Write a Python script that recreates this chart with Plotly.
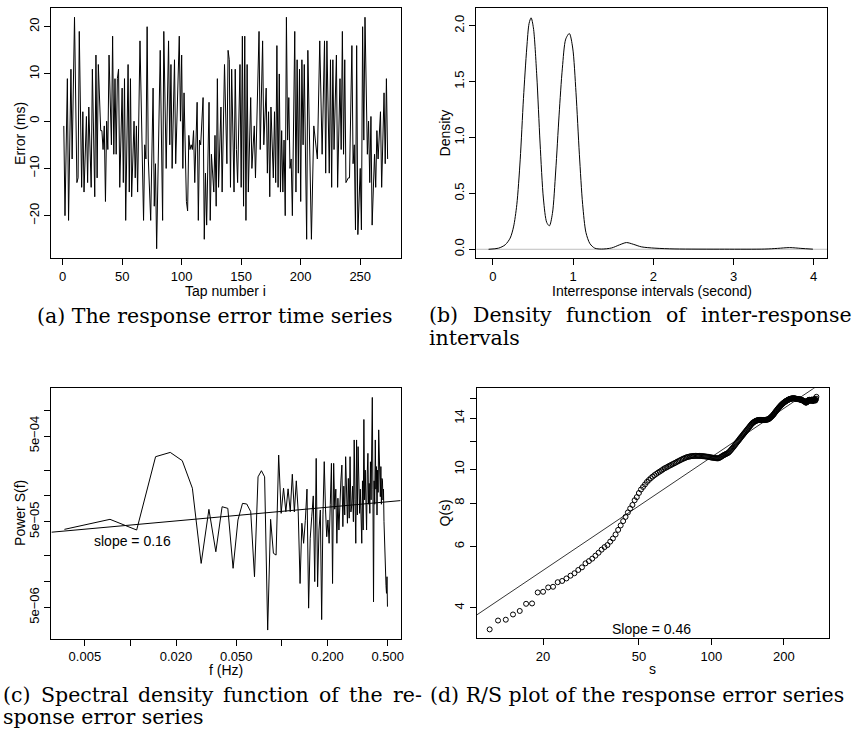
import math
import plotly.graph_objects as go

W, H = 854, 731

# ---------------- Panel (a): response error time series ----------------
tap_numbers = [1,2,4,5,7,8,10,12,13,14,16,17,18,20,21,22,24,25,27,28,29,30,32,33,34,35,36,37,38,39,
               41,42,43,44,45,46,47,48,50,51,52,53,55,56,57,58,60,61,62,63,65,68,69,70,71,72,74,76,77,78,79,
               82,84,85,87,89,90,91,92,94,95,98,99,100,101,102,104,105,106,107,108,109,110,111,113,114,115,
               116,118,119,120,121,123,124,125,127,128,129,130,131,133,134,136,138,139,140,141,142,144,145,
               146,147,149,150,151,152,153,154,155,156,158,159,161,162,165,166,168,169,171,172,173,174,175,
               177,178,179,180,181,182,183,184,185,186,187,188,
               189,190,191,192,193,195,196,197,198,199,200,201,202,203,205,206,207,209,211,214,216,218,220,
               221,222,224,225,226,227,228,230,231,233,234,235,236,237,238,240,241,243,244,245,246,247,248,
               250,251,252,253,254,256,257,258,259,260,262,263,264,265,267,268,270,271,272,273]
errors_ms = [-1,-20,9,-21,11,-8,22,-13,-12,19,-14,2,-15,1,-13,3,-14,11,-16,14,-12,12,-2,-2,-6,-1,-17,0,-6,14,
             -5,18,-7,9,-7,9,11,-14,7,-13,9,-21,12,-15,9,-16,0,-12,-1,-15,17,-21,-5,-8,20,-8,-21,7,-18,-9,-27,
             15,-21,19,-10,17,-5,12,-10,13,-9,18,0,14,-10,6,-17,-19,-3,-6,-5,-6,-2,-13,4,-21,-4,
             -5,5,-25,-11,-22,4,-21,-7,-15,-3,-18,9,-14,3,-15,12,-9,15,13,-14,11,-15,11,
             -6,-13,12,-14,18,-18,18,-21,12,-15,5,-10,-1,-12,19,-6,17,-5,7,-11,2,-16,3,
             -12,2,-13,16,-14,10,-15,-2,-15,-4,-20,22,
             -4,5,-10,-8,-20,19,-15,13,-11,11,-17,13,-5,12,-25,15,2,-25,-1,-8,17,-7,17,
             -11,17,-11,13,-14,13,-6,14,-14,9,-6,19,-7,13,-13,-12,-12,16,-9,-5,-23,16,-24,
             -10,-23,20,-4,22,-7,0,-13,1,-22,-7,-14,-2,-8,2,-14,6,-9,9,-8]

# ---------------- Panel (b): density of inter-response intervals ----------------
iri_seconds = [-0.054,0.07,0.153,0.215,0.257,0.298,0.34,0.381,0.422,0.451,0.476,0.505,0.547,0.588,0.63,
               0.671,0.704,0.742,0.783,0.825,0.866,0.908,0.953,0.995,1.036,1.078,1.119,1.16,1.21,1.27,
               1.355,1.48,1.58,1.665,1.75,1.85,2.02,2.27,2.89,3.39,3.55,3.70,3.84,3.99]
iri_density = [0.0,0.01,0.04,0.10,0.20,0.40,0.80,1.35,1.80,2.02,2.07,1.98,1.55,0.95,0.45,
               0.24,0.21,0.32,0.70,1.20,1.62,1.88,1.93,1.80,1.40,0.85,0.40,0.15,0.05,0.01,
               0.002,0.012,0.04,0.06,0.045,0.022,0.01,0.003,0.001,0.002,0.008,0.015,0.008,0.001]

# ---------------- Panel (c): spectral density ----------------
n_taps = 273
spec_power = [4.07e-5,5.33e-5,4.0e-5,2.87e-4,3.22e-4,2.58e-4,1.23e-4,1.63e-5,6.97e-5,2.23e-5,
              7.48e-5,7.16e-5,1.43e-5,5.24e-5,8.18e-5,8.05e-5,6.55e-5,1.14e-5,1.67e-4,1.97e-4,
              1.67e-4,2.72e-6,5.33e-5,2.14e-5,2.04e-5,3.0e-4,6.26e-5,1.23e-4,6.55e-5,1.21e-4,
              6.55e-5,1.79e-4,6.5e-5,1.5e-4,6.5e-5,9.5e-6,4.8e-5,2.8e-5,5.2e-5,1.2e-4,
              4.9e-6,3.2e-5,5.7e-5,1.0e-4,1.0e-5,2.74e-4,8.7e-6,4.0e-5,6.85e-5,3.6e-6,
              6.0e-5,2.51e-4,7.0e-5,3.34e-5,5.24e-5,2.8e-5,8.0e-5,2.4e-4,9.5e-6,2.4e-4,
              7.0e-5,1.2e-4,2.8e-5,9.4e-5,4.0e-5,1.1e-4,1.53e-4,2.29e-4,4.38e-5,1.3e-4,
              6.0e-5,2.87e-4,9.0e-5,4.8e-5,1.6e-4,5.5e-5,2.87e-4,6.5e-5,7.8e-5,1.3e-4,
              5.0e-5,4.5e-4,9.0e-5,2.8e-5,4.5e-4,6.0e-5,3.76e-4,7.0e-5,6.26e-5,1.2e-4,
              4.5e-5,2.8e-5,1.5e-4,4.0e-5,7.8e-4,9.0e-5,2.0e-4,6.0e-5,4.0e-5,1.8e-4,
              3.14e-4,8.0e-5,1.4e-4,6.26e-5,2.5e-4,9.0e-5,3.5e-4,1.41e-3,1.2e-4,5.8e-6,
              1.5e-4,8.0e-5,4.5e-4,1.2e-4,2.2e-4,5.98e-5,2.0e-4,1.1e-4,5.9e-4,2.5e-4,
              1.2e-4,9.8e-5,2.2e-4,8.0e-5,1.6e-4,1.53e-4,8.96e-5,1.2e-4,5.0e-5,2.8e-5,
              1.5e-5,1.25e-5,9.0e-6,7.3e-6,1.14e-5,5.1e-6]
spec_freq = [k / n_taps for k in range(1, len(spec_power) + 1)]
spec_slope = 0.16
spec_intercept_log10 = -4.02

# ---------------- Panel (d): R/S plot ----------------
rs_s = list(range(12, 274))
rs_q = [3.47,3.68,3.70,3.83,3.92,4.11,4.12,4.43,4.45,4.58,4.60,4.74,4.78,4.86,4.95,5.03,5.14,5.23,5.37,
        5.45,5.54,5.65,5.76,5.88,5.98,6.06,6.20,6.33,6.50,6.70,6.90,7.10,7.30,7.52,7.72,7.90,8.15,8.32,
        8.55,8.75,8.90,9.05,9.20,9.32,9.43,9.53,9.62,9.70,9.78,9.85,9.92,10.00,10.07,10.12,10.18,10.24,
        10.29,10.35,10.40,10.45,10.51,10.56,10.61,10.66,10.71,10.75,10.79,10.83,10.86,10.88,10.90,10.91,
        10.92,10.92,10.93,10.93,10.93,10.93,10.92,10.92,10.91,10.90,10.89,10.88,10.87,10.86,10.84,10.83,
        10.81,10.80,10.79,10.78,10.77,10.76,10.75,10.76,10.79,10.83,10.87,10.92,10.96,11.00,11.03,11.07,
        11.10,11.13,11.18,11.25,11.32,11.40,11.47,11.55,11.63,11.72,11.80,11.89,11.97,12.05,12.13,12.22,
        12.30,12.38,12.46,12.54,12.62,12.70,12.78,12.86,12.94,13.02,13.10,13.18,13.26,13.34,13.42,13.49,
        13.56,13.61,13.66,13.70,13.74,13.77,13.80,13.82,13.84,13.85,13.86,13.86,13.86,13.86,13.85,13.85,
        13.85,13.85,13.85,13.86,13.87,13.88,13.89,13.90,13.91,13.94,13.98,14.03,14.08,14.13,14.18,14.24,
        14.30,14.36,14.43,14.50,14.58,14.65,14.72,14.79,14.86,14.93,15.00,15.06,15.12,15.18,15.24,15.30,
        15.35,15.40,15.45,15.50,15.54,15.58,15.62,15.66,15.70,15.73,15.76,15.79,15.82,15.85,15.88,15.90,
        15.92,15.94,15.95,15.96,15.97,15.98,15.98,15.99,15.99,15.98,15.97,15.96,15.95,15.94,15.93,15.92,
        15.91,15.90,15.90,15.89,15.88,15.87,15.86,15.85,15.83,15.81,15.79,15.77,15.75,15.73,15.72,15.70,
        15.66,15.60,15.56,15.54,15.55,15.58,15.62,15.68,15.74,15.79,15.82,15.84,15.80,15.75,15.72,15.76,
        15.82,15.86,15.80,15.74,15.70,15.76,15.84,15.90,15.86,15.78,15.75,15.82,15.95,16.15]
rs_slope = 0.465
rs_intercept_log10 = 0.105

# ---------------- layout helpers ----------------
def px_x(p):
    return p / W

def px_y(p):
    return 1 - p / H

SANS = "Liberation Sans, Arial, Helvetica, sans-serif"
SERIF = "DejaVu Serif, serif"
TICKFONT = dict(family=SANS, size=13, color="black")

def axis(**kw):
    d = dict(showline=True, mirror=True, linecolor="black", linewidth=1,
             ticks="outside", ticklen=6, tickwidth=1, tickcolor="black",
             showgrid=False, zeroline=False, tickfont=TICKFONT, fixedrange=True)
    d.update(kw)
    return d

XR_C = [-2.522, -0.216]
XR_D = [1.025, 2.490]

fig = go.Figure()

# (a)
fig.add_trace(go.Scatter(x=tap_numbers, y=errors_ms, mode="lines",
                         line=dict(color="black", width=1), xaxis="x", yaxis="y"))
# (b)
fig.add_trace(go.Scatter(x=[-0.3, 4.3], y=[0, 0], mode="lines",
                         line=dict(color="#bebebe", width=1), xaxis="x2", yaxis="y2"))
fig.add_trace(go.Scatter(x=iri_seconds, y=iri_density, mode="lines",
                         line=dict(color="black", width=1, shape="spline", smoothing=0.8),
                         xaxis="x2", yaxis="y2"))
# (c)
fig.add_trace(go.Scatter(x=spec_freq, y=spec_power, mode="lines",
                         line=dict(color="black", width=1), xaxis="x3", yaxis="y3"))
fx = [10 ** XR_C[0], 10 ** XR_C[1]]
fig.add_trace(go.Scatter(x=fx, y=[10 ** (spec_intercept_log10 + spec_slope * math.log10(v)) for v in fx],
                         mode="lines", line=dict(color="black", width=1), xaxis="x3", yaxis="y3"))
# (d)
fig.add_trace(go.Scatter(x=rs_s, y=rs_q, mode="markers",
                         marker=dict(symbol="circle-open", size=5, color="black", line=dict(width=1)),
                         xaxis="x4", yaxis="y4"))
sx = [10 ** XR_D[0], 10 ** XR_D[1]]
fig.add_trace(go.Scatter(x=sx, y=[10 ** (rs_intercept_log10 + rs_slope * math.log10(v)) for v in sx],
                         mode="lines", line=dict(color="black", width=0.8), xaxis="x4", yaxis="y4"))

ann = []
def label(text, x, y, angle=0, size=14, family=SANS, xanchor="center", yanchor="middle"):
    ann.append(dict(text=text, x=px_x(x), y=px_y(y), xref="paper", yref="paper",
                    showarrow=False, textangle=angle, xanchor=xanchor, yanchor=yanchor,
                    font=dict(family=family, size=size, color="black")))

label("Error (ms)", 20, 133, -90)
label("Tap number i", 226.5, 291)
label("Density", 447, 133, -90)
label("Interresponse intervals (second)", 654, 291)
label("Power S(f)", 20, 513, -90)
label("f (Hz)", 227, 670)
label("Q(s)", 447, 513, -90)
label("s", 655, 669)

cap = 20.5
label("(a) The response error time series", 215, 316, size=cap, family=SERIF)
# justified first lines (word by word)
for word, x0 in zip(["(b)", "Density", "function", "of", "inter-response"],
                    [429, 473.0, 565.9, 666.6, 701.4]):
    label(word, x0, 315, size=cap, family=SERIF, xanchor="left")
label("intervals", 429, 338, size=cap, family=SERIF, xanchor="left")
for word, x0 in zip(["(c)", "Spectral", "density", "function", "of", "the", "re-"],
                    [1, 38.9, 136.2, 221.9, 318.1, 348.4, 392.4]):
    label(word, x0, 695, size=cap, family=SERIF, xanchor="left")
label("sponse error series", 1, 731, size=cap, family=SERIF, xanchor="left", yanchor="bottom")
label("(d) R/S plot of the response error series", 430, 695, size=cap, family=SERIF, xanchor="left")

ann.append(dict(text="slope = 0.16", x=-1.986, y=-4.526, xref="x3", yref="y3", showarrow=False,
                font=dict(family=SANS, size=14, color="black")))
ann.append(dict(text="Slope = 0.46", x=1.7497, y=0.5428, xref="x4", yref="y4", showarrow=False,
                font=dict(family=SANS, size=14, color="black")))

fig.update_layout(
    width=W, height=H, margin=dict(l=0, r=0, t=0, b=0),
    paper_bgcolor="white", plot_bgcolor="white", showlegend=False,
    xaxis=axis(domain=[px_x(51), px_x(402)], range=[-9.9, 283.9],
               tickvals=[0, 50, 100, 150, 200, 250], anchor="y"),
    yaxis=axis(domain=[px_y(258), px_y(8)], range=[-28.96, 23.96],
               tickvals=[-20, -10, 0, 10, 20], tickangle=-90, anchor="x"),
    xaxis2=axis(domain=[px_x(478), px_x(830)], range=[-0.207, 4.167],
                tickvals=[0, 1, 2, 3, 4], anchor="y2"),
    yaxis2=axis(domain=[px_y(258), px_y(8)], range=[-0.078, 2.158],
                tickvals=[0, 0.5, 1.0, 1.5, 2.0], ticktext=["0.0", "0.5", "1.0", "1.5", "2.0"],
                tickangle=-90, anchor="x2"),
    xaxis3=axis(type="log", domain=[px_x(51.6), px_x(402)], range=XR_C,
                tickvals=[0.005, 0.01, 0.02, 0.05, 0.1, 0.2, 0.5],
                ticktext=["0.005", "", "0.020", "0.050", "", "0.200", "0.500"], anchor="y3"),
    yaxis3=axis(type="log", domain=[px_y(638.5), px_y(388.3)], range=[-5.664, -2.744],
                tickvals=[5e-6, 1e-5, 2e-5, 5e-5, 1e-4, 2e-4, 5e-4, 1e-3],
                ticktext=["5e\u221206", "", "", "5e\u221205", "", "", "5e\u221204", ""],
                tickangle=-90, anchor="x3"),
    xaxis4=axis(type="log", domain=[px_x(478.3), px_x(832.3)], range=XR_D,
                tickvals=[20, 50, 100, 200], ticktext=["20", "50", "100", "200"], anchor="y4"),
    yaxis4=axis(type="log", domain=[px_y(638.3), px_y(388.3)], range=[0.5148, 1.2326],
                tickvals=[4, 6, 8, 10, 12, 14, 16], ticktext=["4", "6", "8", "10", "", "14", ""],
                tickangle=-90, anchor="x4"),
    annotations=ann,
)

fig.write_html("out.html", config={"displayModeBar": False},
               post_script="document.body.style.margin='0px';document.body.style.overflow='hidden';")
